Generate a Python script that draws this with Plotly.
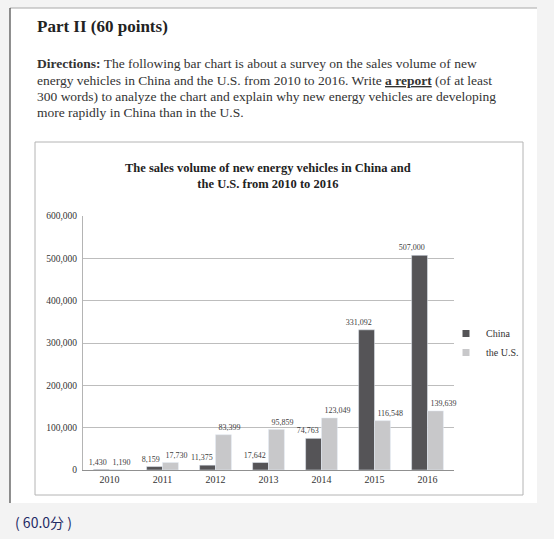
import plotly.graph_objects as go

years = ["2010", "2011", "2012", "2013", "2014", "2015", "2016"]
china = [1430, 8159, 11375, 17642, 74763, 331092, 507000]
us = [1190, 17730, 83399, 95859, 123049, 116548, 139639]
y_ticks = [0, 100000, 200000, 300000, 400000, 500000, 600000]

W, H = 554, 539
SERIF = "Liberation Serif, Times New Roman, serif"
DARK = "#555457"
LIGHT = "#c8c8ca"


def fx(x):
    return x / W


def fy(y):
    return 1 - y / H


fig = go.Figure()

fig.add_trace(go.Bar(x=years, y=china, name="China", marker_color=DARK,
                     showlegend=False, hoverinfo="x+y"))
fig.add_trace(go.Bar(x=years, y=us, name="the U.S.", marker_color=LIGHT,
                     showlegend=False, hoverinfo="x+y"))

# value labels: China ones end at the category centre, U.S. ones start there
for vals, pos in [(china, "top left"), (us, "top right")]:
    fig.add_trace(go.Scatter(
        x=years, y=vals, mode="markers+text", text=[f"{v:,}" for v in vals],
        textposition=pos, marker=dict(size=3, opacity=0),
        textfont=dict(family=SERIF, size=8, color="#404040"),
        cliponaxis=False, showlegend=False, hoverinfo="skip"))

# legend entries with small square symbols
for name, col in [("China", DARK), ("the U.S.", LIGHT)]:
    fig.add_trace(go.Scatter(x=[None], y=[None], mode="markers", name=name,
                             marker=dict(symbol="square", size=7, color=col)))

shapes = [
    # white card
    dict(type="rect", xref="paper", yref="paper", x0=fx(10), x1=fx(537),
         y0=fy(503), y1=fy(8), fillcolor="white", line_width=0, layer="below"),
    dict(type="line", xref="paper", yref="paper", x0=fx(10), x1=fx(537),
         y0=fy(8), y1=fy(8), line=dict(color="#a8a8a8", width=1), layer="below"),
    dict(type="line", xref="paper", yref="paper", x0=fx(10), x1=fx(10),
         y0=fy(8), y1=fy(503), line=dict(color="#222222", width=1), layer="below"),
    # chart box
    dict(type="rect", xref="paper", yref="paper", x0=fx(35), x1=fx(523),
         y0=fy(495), y1=fy(142), fillcolor="white",
         line=dict(color="#b4b4b4", width=1), layer="below"),
]

TXT = dict(family=SERIF, size=13.5, color="#333333")
annotations = [
    dict(text="<b>Part II (60 points)</b>", x=fx(35), y=fy(27),
         font=dict(family=SERIF, size=17, color="#222222")),
    dict(text="<b>Directions:</b> The following bar chart is about a survey on the sales volume of new",
         x=fx(35), y=fy(63), font=TXT),
    dict(text="energy vehicles in China and the U.S. from 2010 to 2016. Write <b><u>a report</u></b> (of at least",
         x=fx(35), y=fy(80), font=TXT),
    dict(text="300 words) to analyze the chart and explain why new energy vehicles are developing",
         x=fx(35), y=fy(96), font=TXT),
    dict(text="more rapidly in China than in the U.S.",
         x=fx(35), y=fy(112), font=TXT),
    dict(text="( 60.0分 )", x=fx(13), y=fy(522),
         font=dict(family="Noto Sans CJK SC, sans-serif", size=14, color="#1f2b66")),
]
for a in annotations:
    a.update(xref="paper", yref="paper", xanchor="left", yanchor="middle",
             showarrow=False)

annotations.append(dict(
    text="<b>The sales volume of new energy vehicles in China and<br>the U.S. from 2010 to 2016</b>",
    x=fx(268), y=fy(176), xref="paper", yref="paper", xanchor="center",
    yanchor="middle", showarrow=False,
    font=dict(family=SERIF, size=12.5, color="#222222")))

fig.update_layout(
    width=W, height=H,
    margin=dict(l=0, r=0, t=0, b=0, pad=0, autoexpand=False),
    paper_bgcolor="#f3f3f3",
    plot_bgcolor="rgba(0,0,0,0)",
    barmode="group", bargap=0.4, bargroupgap=0,
    shapes=shapes, annotations=annotations,
    showlegend=True,
    legend=dict(x=fx(446), y=fy(319), xanchor="left", yanchor="top",
                bgcolor="rgba(0,0,0,0)", itemwidth=30,
                font=dict(family=SERIF, size=10, color="#333333"),
                tracegroupgap=0),
    xaxis=dict(domain=[fx(83), fx(454)], showgrid=False, showline=True,
               linecolor="#909090", linewidth=1, ticks="",
               tickfont=dict(family=SERIF, size=10, color="#333333")),
    yaxis=dict(domain=[fy(470), fy(216)], range=[0, 600000],
               tickvals=y_ticks, tickformat=",", showgrid=True,
               gridcolor="#bdbdbd", gridwidth=1, zeroline=False,
               showline=True, linecolor="#b4b4b4", ticks="",
               ticklabelstandoff=3,
               tickfont=dict(family=SERIF, size=9.5, color="#333333")),
)

# the page's default 8px body margin would shift the figure
fig.write_html("out.html", config={"displayModeBar": False},
               post_script="document.body.style.margin='0';"
                           "document.body.style.background='#f3f3f3';")
